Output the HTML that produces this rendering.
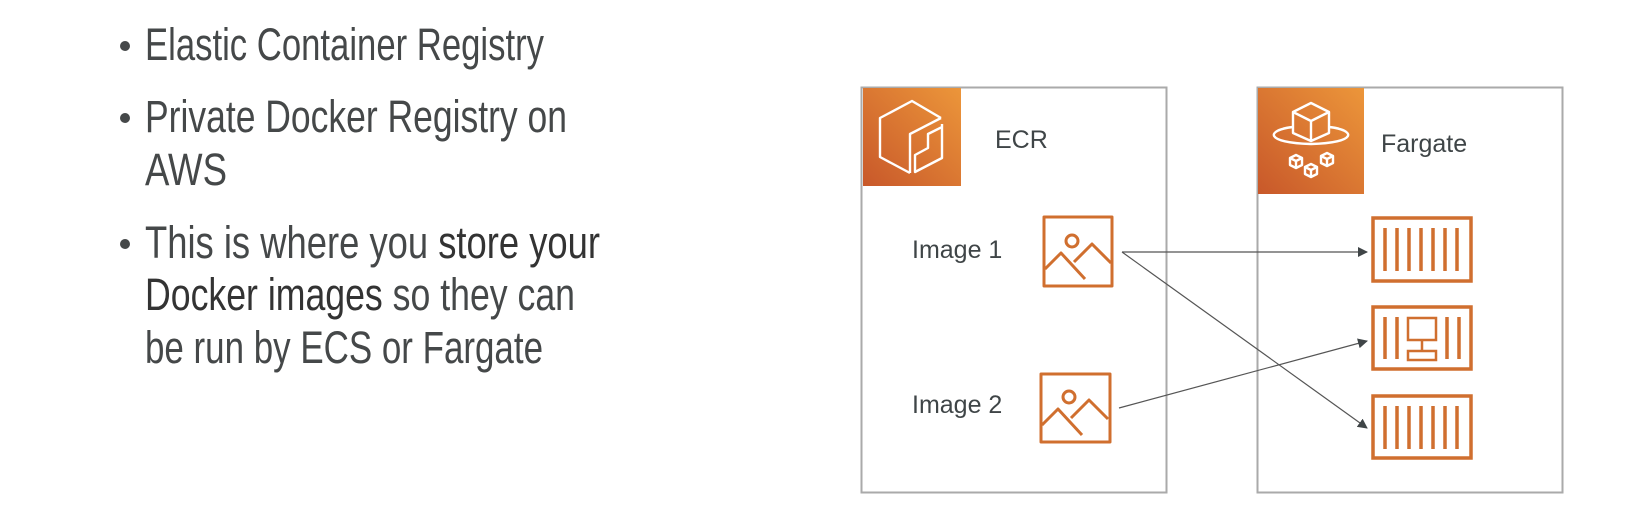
<!DOCTYPE html>
<html><head><meta charset="utf-8"><style>
html,body{margin:0;padding:0;background:#fff;width:1650px;height:518px;overflow:hidden}
svg{display:block}
</style></head><body>
<svg width="1650" height="518" viewBox="0 0 1650 518" xmlns="http://www.w3.org/2000/svg">
<defs>
<linearGradient id="og" x1="0" y1="1" x2="1" y2="0">
<stop offset="0" stop-color="#c8582a"/><stop offset="1" stop-color="#ec963a"/>
</linearGradient>
<marker id="ah" markerWidth="10" markerHeight="10" refX="9" refY="5" orient="auto" markerUnits="userSpaceOnUse">
<path d="M0,0 L10,5 L0,10 z" fill="#3f4547"/>
</marker>
</defs>
<g font-family="Liberation Sans, sans-serif" fill="#454849" font-size="45">
<circle cx="125" cy="46" r="5"/>
<text x="145" y="60" textLength="399" lengthAdjust="spacingAndGlyphs">Elastic Container Registry</text>
<circle cx="125" cy="118" r="5"/>
<text x="145" y="132" textLength="422" lengthAdjust="spacingAndGlyphs">Private Docker Registry on</text>
<text x="145" y="185" textLength="82" lengthAdjust="spacingAndGlyphs">AWS</text>
<circle cx="125" cy="244" r="5"/>
<text x="145" y="258" textLength="455" lengthAdjust="spacingAndGlyphs">This is where you <tspan fill="#333">store your</tspan></text>
<text x="145" y="310" textLength="430" lengthAdjust="spacingAndGlyphs"><tspan fill="#333">Docker images</tspan> so they can</text>
<text x="145" y="363" textLength="398" lengthAdjust="spacingAndGlyphs">be run by ECS or Fargate</text>
</g>
<rect x="861.5" y="87.5" width="305" height="405" fill="none" stroke="#aaa" stroke-width="2"/>
<rect x="1257.5" y="87.5" width="305" height="405" fill="none" stroke="#aaa" stroke-width="2"/>
<rect x="863" y="88" width="98" height="98" fill="url(#og)"/>
<g fill="none" stroke="#fff" stroke-width="2.4" stroke-linejoin="round">
<path d="M941,118 L912,101 L880,118 L880,157 L910,173"/>
<path d="M941,118 L910,134 L910,173"/>
<path d="M942,124 L942,158 L915,172 L915,155 L928,148 L928,134 L942,127"/>
</g>
<rect x="1258" y="88" width="106" height="106" fill="url(#og)"/>
<g fill="none" stroke="#fff" stroke-width="2.4" stroke-linejoin="round">
<path d="M1311,103 L1329,112 L1329,133 L1311,141 L1293,133 L1293,112 Z M1293,112 L1311,121 L1329,112 M1311,121 L1311,141"/>
<path d="M1293,127 C1265,130 1265,143 1311,144 C1357,143 1357,130 1329,127"/>
<path d="M1290,158 l6,-3 l6,3 v7 l-6,3 l-6,-3 z M1290,158 l6,3 l6,-3 M1296,161 v7"/>
<path d="M1305,167 l6,-3 l6,3 v7 l-6,3 l-6,-3 z M1305,167 l6,3 l6,-3 M1311,170 v7"/>
<path d="M1321,156 l6,-3 l6,3 v7 l-6,3 l-6,-3 z M1321,156 l6,3 l6,-3 M1327,159 v7"/>
</g>
<g font-family="Liberation Sans, sans-serif" fill="#3f4547" font-size="25">
<text x="995" y="148">ECR</text>
<text x="1381" y="152">Fargate</text>
<text x="912" y="258">Image 1</text>
<text x="912" y="413">Image 2</text>
</g>
<g fill="none" stroke="#d06f2f" stroke-width="3" stroke-linejoin="round">
<rect x="1044" y="217" width="68" height="69"/>
<circle cx="1072" cy="241" r="6"/>
<path d="M1045,269 L1061,253 L1085,279 M1074,262 L1092,244 L1111,263"/>
<rect x="1041" y="374" width="69" height="68"/>
<circle cx="1069" cy="397" r="6"/>
<path d="M1042,425 L1058,409 L1082,435 M1071,418 L1089,400 L1108,419"/>
</g>
<g fill="none" stroke="#d06f2f" stroke-width="3.5">
<rect x="1373" y="218" width="98" height="63"/>
<rect x="1373" y="307" width="98" height="62"/>
<rect x="1373" y="396" width="98" height="62"/>
<path d="M1385,228v43 M1397,228v43 M1409,228v43 M1421,228v43 M1433,228v43 M1445,228v43 M1457,228v43"/>
<path d="M1385,406v43 M1397,406v43 M1409,406v43 M1421,406v43 M1433,406v43 M1445,406v43 M1457,406v43"/>
<path d="M1385,317v42 M1397,317v42 M1447,317v42 M1459,317v42" />
</g>
<g fill="none" stroke="#d06f2f" stroke-width="2.5">
<rect x="1408" y="318" width="28" height="22"/>
<path d="M1422,340v10"/>
<rect x="1408" y="351" width="28" height="9"/>
</g>
<g stroke="#555" stroke-width="1.2" fill="none">
<line x1="1122" y1="252" x2="1367" y2="252" marker-end="url(#ah)"/>
<line x1="1122" y1="252" x2="1367" y2="428" marker-end="url(#ah)"/>
<line x1="1119" y1="408" x2="1367" y2="341" marker-end="url(#ah)"/>
</g>
</svg>
</body></html>
